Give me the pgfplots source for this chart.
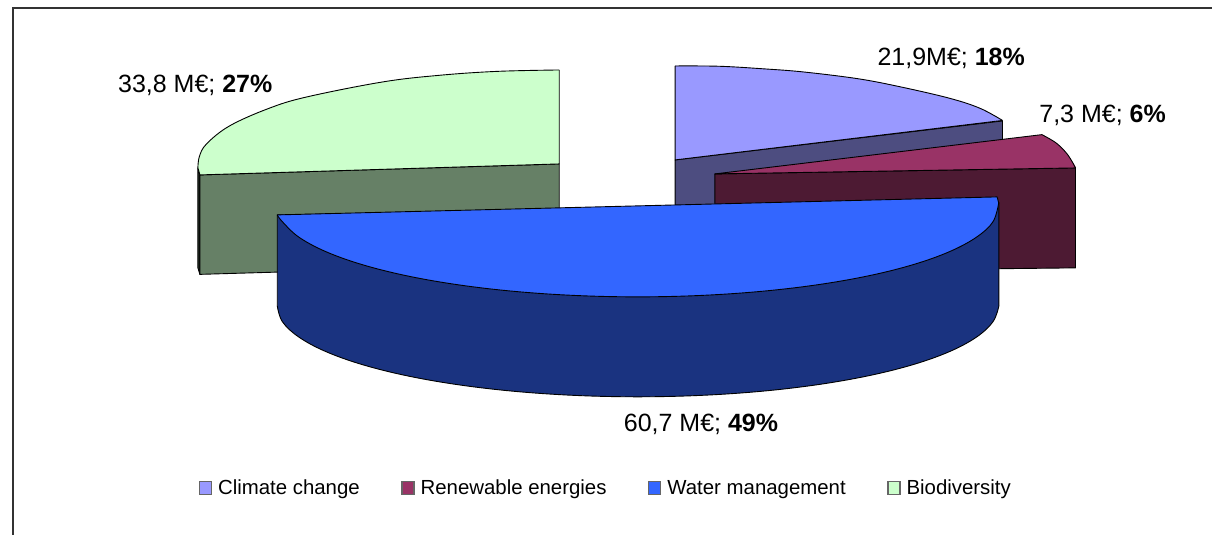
\documentclass[border=0pt]{standalone}
\usepackage{fontspec}
\setmainfont{Liberation Sans}
\usepackage{pgfplots}
\pgfplotsset{compat=1.18}

\definecolor{climate}{RGB}{153,153,255}
\definecolor{climateside}{RGB}{77,77,128}
\definecolor{renew}{RGB}{153,51,102}
\definecolor{renewside}{RGB}{77,26,51}
\definecolor{water}{RGB}{51,102,255}
\definecolor{waterside}{RGB}{26,51,128}
\definecolor{bio}{RGB}{204,255,204}
\definecolor{bioside}{RGB}{102,128,102}
\definecolor{biodark}{RGB}{40,52,40}

\newcommand{\lab}{\fontsize{25}{29}\selectfont}
\pgfplotsset{
  poly/.style={forget plot, draw=none, fill=#1},
  arc/.style={forget plot, smooth, tension=0.6, draw=black, line width=0.9pt, fill=#1},
  edge/.style={forget plot, draw=black, line width=0.9pt, line join=round},
  face/.style={forget plot, draw=black, line width=0.9pt, line join=round, fill=#1},
  key/.style={legend image code/.code={
    \draw[draw=black!60, line width=1.2pt, fill=#1] (0pt,-6.5pt) rectangle (12pt,6.5pt);}},
}

\begin{document}
\begin{tikzpicture}
\begin{axis}[
    scale only axis,
    width=1213pt, height=535pt,
    xmin=0, xmax=1213, ymin=0, ymax=535,
    y dir=reverse,
    hide axis,
    clip=false,
    legend columns=4,
    legend cell align=left,
    legend style={
      at={(axis cs:199,488.5)}, anchor=west,
      draw=none, fill=none, inner sep=0pt, outer sep=0pt,
      font=\fontsize{20.4}{24}\selectfont,
      /tikz/every odd column/.style={column sep=4pt},
      /tikz/every even column/.style={column sep=39.7pt},
    },
  ]
% page and frame
\addplot[forget plot, draw=none, fill=white] coordinates {(0,0) (1213,0) (1213,535) (0,535) (0,0)};
\addplot[forget plot, draw=black!80, line width=1.2pt] coordinates {(13,535) (13,8) (1213,8)};

% climate change
\addplot[face=climateside] coordinates {(675.4,160) (1003,121) (1003,175) (675.4,215) (675.4,160)};
\addplot[poly=climate] coordinates {(675.4,66) (720,66.3) (766,69) (804,72) (858,78.7) (900,86.7)
  (950,98.3) (980.4,108.3) (1003,120.5) (675.4,160) (675.4,66)};
\addplot[arc=climate] coordinates {(675.4,66) (720,66.3) (766,69) (804,72) (858,78.7) (900,86.7)
  (950,98.3) (980.4,108.3) (1003,120.5)};
\addplot[edge] coordinates {(675.4,66) (675.4,160) (1003,120.5)};

% renewable energies
\addplot[face=renewside] coordinates {(715.2,174) (1076,168) (1076,268) (715.2,272) (715.2,174)};
\addplot[poly=renew] coordinates {(715.2,174) (1042.4,134.7) (1057,143.3) (1068.4,155) (1075.7,166)
  (1076,168) (715.2,174)};
\addplot[arc=renew] coordinates {(1042.4,134.7) (1057,143.3) (1068.4,155) (1076,168)};
\addplot[edge] coordinates {(1042.4,134.7) (715.2,174) (1076,168)};

% biodiversity
\addplot[face=biodark] coordinates {(198,168) (200,175) (200,274.5) (198,268) (198,168)};
\addplot[face=bioside] coordinates {(200,175) (559.5,164) (559.5,264) (200,274.5) (200,175)};
\addplot[poly=bio] coordinates {(559.5,70) (497.5,71.4) (440,75.3) (382.7,82) (306,97.2) (268,108.8)
  (229.6,126) (206.7,143.9) (199.5,156.5) (198,168) (200,175) (559.5,164) (559.5,70)};
\addplot[arc=bio] coordinates {(559.5,70) (497.5,71.4) (440,75.3) (382.7,82) (306,97.2) (268,108.8)
  (229.6,126) (206.7,143.9) (199.5,156.5) (198,168)};
\addplot[edge] coordinates {(198,168) (200,175) (559.5,164) (559.5,70)};

% water management
\addplot[forget plot, draw=black, line width=0.9pt, fill=waterside] coordinates {(277.4,306) (277.4,215) (999.4,203) (999.4,306)};
\addplot[arc=waterside] coordinates {(277.4,306) (282.5,321.8) (298.8,337.1) (325.4,351.5)
  (361.5,364.5) (405.9,375.7) (457.5,384.8) (514.5,391.5) (575.3,395.6) (638,397) (700.7,395.6)
  (761.5,391.5) (818.5,384.8) (870.1,375.7) (914.5,364.5) (950.6,351.5) (977.2,337.1) (993.5,321.8)
  (999.4,306)};
\addplot[poly=water] coordinates {(277.4,215) (997.6,197) (999.2,203) (993.5,221.8) (977.2,237.1)
  (950.6,251.5) (914.5,264.5) (870.1,275.7) (818.5,284.8) (761.5,291.5) (700.7,295.6) (638,297)
  (575.3,295.6) (514.5,291.5) (457.5,284.8) (405.9,275.7) (361.5,264.5) (325.4,251.5) (298.8,237.1)
  (282.5,221.8) (277.4,215)};
\addplot[arc=water] coordinates {(999.2,203) (993.5,221.8) (977.2,237.1)
  (950.6,251.5) (914.5,264.5) (870.1,275.7) (818.5,284.8) (761.5,291.5) (700.7,295.6) (638,297)
  (575.3,295.6) (514.5,291.5) (457.5,284.8) (405.9,275.7) (361.5,264.5) (325.4,251.5) (298.8,237.1)
  (282.5,221.8) (277.4,215)};
\addplot[edge] coordinates {(277.4,215) (997.6,197) (999.2,203)};

% legend
\addlegendimage{key=climate}\addlegendentry{Climate change}
\addlegendimage{key=renew}\addlegendentry{Renewable energies}
\addlegendimage{key=water}\addlegendentry{Water management}
\addlegendimage{key=bio}\addlegendentry{Biodiversity}

% data labels
\node[anchor=west, inner sep=0pt] at (axis cs:877.8,58) {\lab 21,9M€; \textbf{18\%}};
\node[anchor=west, inner sep=0pt] at (axis cs:1039.7,115) {\lab 7,3 M€; \textbf{6\%}};
\node[anchor=west, inner sep=0pt] at (axis cs:118,85) {\lab 33,8 M€; \textbf{27\%}};
\node[anchor=west, inner sep=0pt] at (axis cs:624,425) {\lab 60,7 M€; \textbf{49\%}};
\end{axis}
\end{tikzpicture}
\end{document}
